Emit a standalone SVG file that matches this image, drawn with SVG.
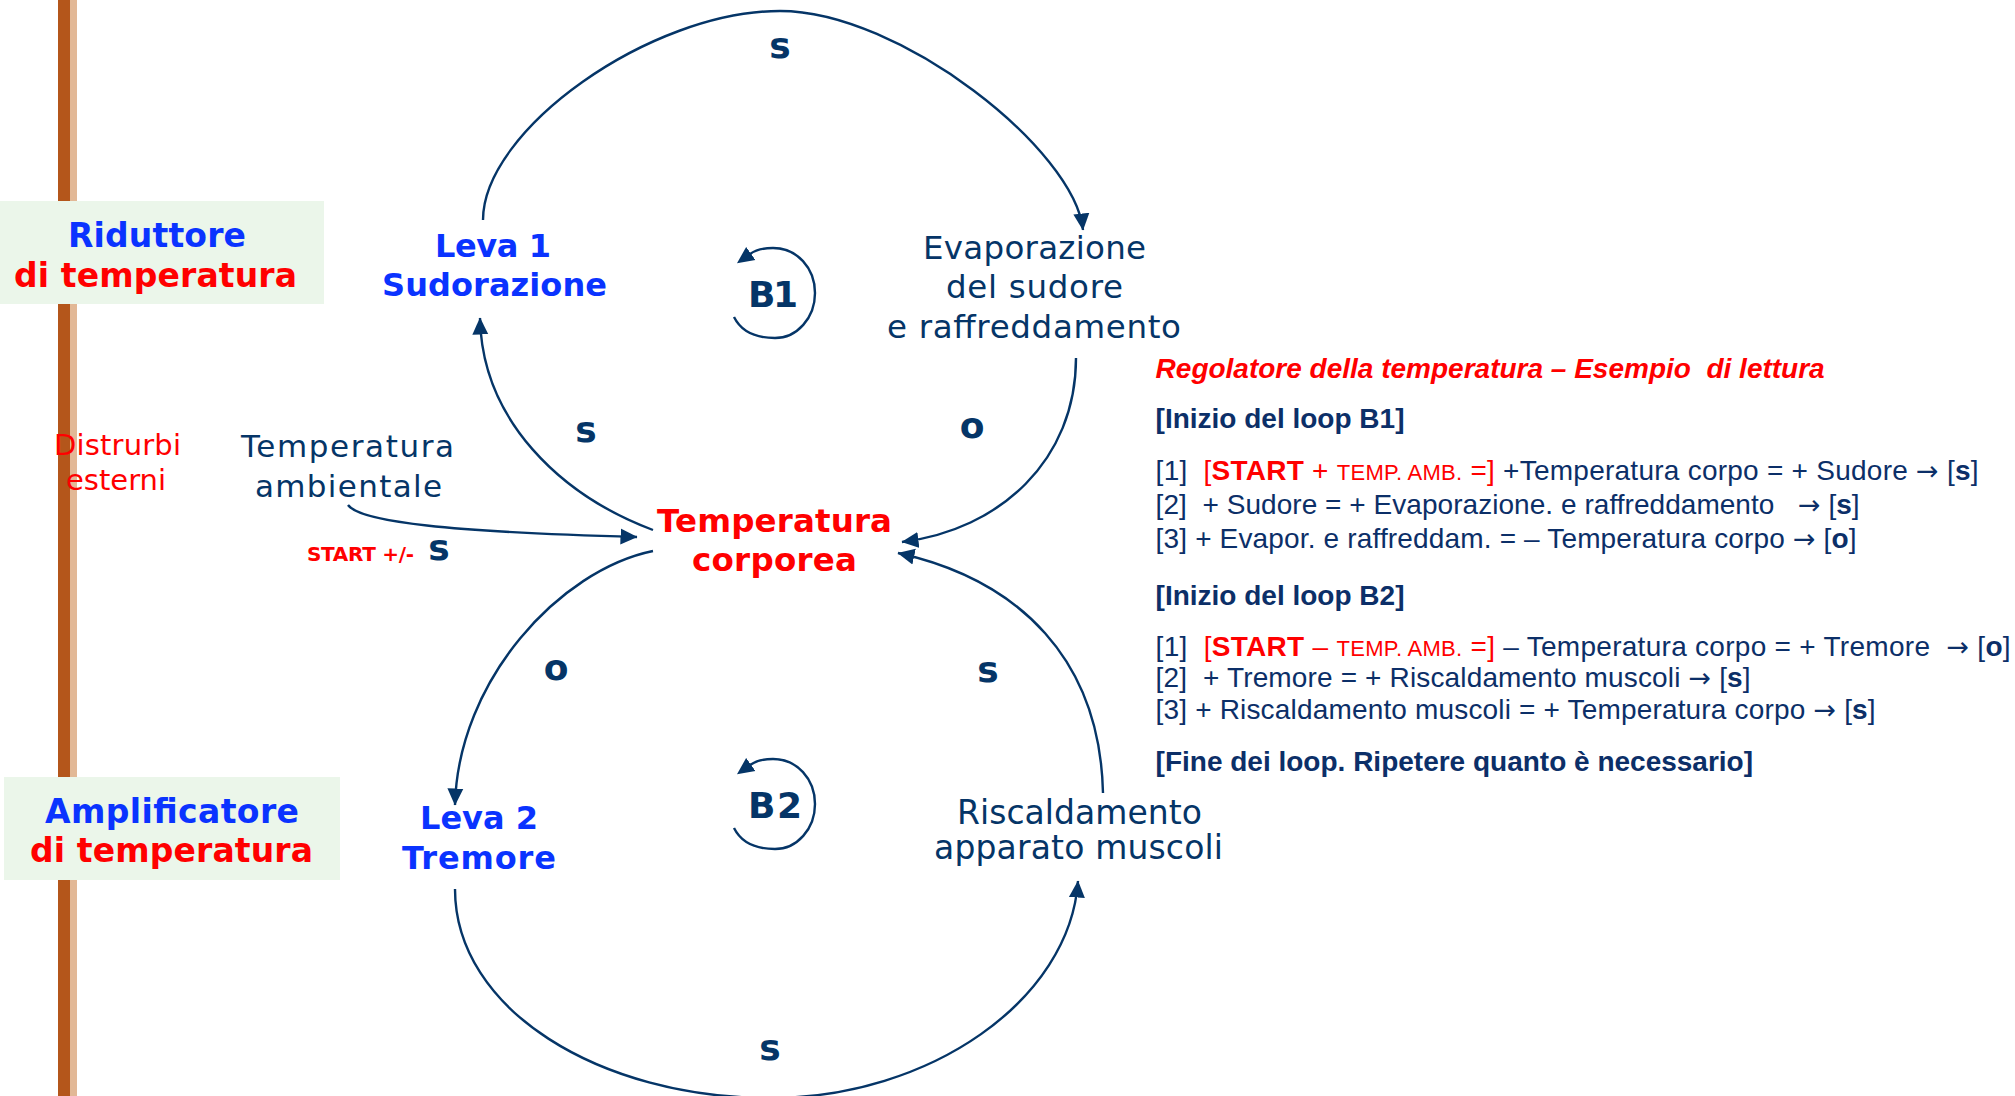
<svg xmlns="http://www.w3.org/2000/svg" width="2015" height="1096" viewBox="0 0 2015 1096">
<style>
.v{font-family:"DejaVu Sans",Verdana,sans-serif}
.vb{font-family:"DejaVu Sans",Verdana,sans-serif;font-weight:bold}
.navy{fill:#053567}
.blue{fill:#0a33ff}
.red{fill:#ff0000}
.pol{font-family:"DejaVu Sans",Verdana,sans-serif;font-weight:bold;font-size:36px;fill:#053567;text-anchor:middle}
.link{fill:none;stroke:#053567;stroke-width:2.4}
.box{fill:#ebf6ea}
.rt{font-family:"Liberation Sans",Arial,sans-serif;font-size:28px;fill:#0c2f68;white-space:pre}
.rt.red,.rt .red{fill:#ff0000}
.b{font-weight:bold}
.sc{font-size:22px}
.ar{font-family:"DejaVu Sans",sans-serif;font-size:27px}
</style>
<defs>
<marker id="arrow" markerUnits="userSpaceOnUse" viewBox="0 0 18 18" markerWidth="18" markerHeight="18" refX="16.5" refY="9" orient="auto">
<path d="M0,1 L17,9 L0,17 z" fill="#053567"/>
</marker>
<marker id="loopArrow" markerUnits="userSpaceOnUse" viewBox="0 0 18 18" markerWidth="18" markerHeight="18" refX="1" refY="9" orient="auto">
<path d="M0,1 L17,9 L0,17 z" fill="#053567"/>
</marker>
<path id="loop" class="link" d="M734,317 C742,333 758,338 775,338 C797,338 815,318 815,293 C815,268 797,248 773,248 C764,248 757,249 750,254" marker-end="url(#loopArrow)"/>
</defs>

<rect width="2015" height="1096" fill="#ffffff"/>

<!-- side rail -->
<g id="rail">
<rect x="58" y="0" width="12" height="1096" fill="#b4561b"/>
<rect x="70" y="0" width="7" height="1096" fill="#e2b896"/>
</g>

<!-- side boxes -->
<g id="riduttore">
<rect class="box" x="0" y="201" width="324" height="103"/>
<text class="vb blue" x="68" y="247" font-size="33" textLength="178">Riduttore</text>
<text class="vb red" x="14" y="287" font-size="33" textLength="283">di temperatura</text>
</g>
<g id="amplificatore">
<rect class="box" x="4" y="777" width="336" height="103"/>
<text class="vb blue" x="45" y="823" font-size="33" textLength="254">Amplificatore</text>
<text class="vb red" x="30" y="862" font-size="33" textLength="283">di temperatura</text>
</g>
<g id="disturbi">
<text class="v red" x="54" y="455" font-size="29" textLength="127">Distrurbi</text>
<text class="v red" x="66" y="490" font-size="29" textLength="100">esterni</text>
</g>

<!-- connectors -->
<g id="connectors">
<path class="link" d="M483,220 C483,130 650,11 780,11 C900,11 1075,150 1083,230" marker-end="url(#arrow)"/>
<path class="link" d="M1076,358 C1076,460 1000,530 902,542" marker-end="url(#arrow)"/>
<path class="link" d="M653,530 C560,495 482,420 480,318" marker-end="url(#arrow)"/>
<path class="link" d="M653,551 C560,570 458,680 455,805" marker-end="url(#arrow)"/>
<path class="link" d="M455,889 C455,1010 600,1098 770,1098 C930,1098 1070,1000 1078,881" marker-end="url(#arrow)"/>
<path class="link" d="M1103,793 C1100,660 1020,580 898,553" marker-end="url(#arrow)"/>
<path class="link" d="M348,505 C360,522 450,532 637,537" marker-end="url(#arrow)"/>
<text class="pol" x="780" y="58">s</text>
<text class="pol" x="586" y="442">s</text>
<text class="pol" x="972" y="438">o</text>
<text class="pol" x="556" y="680">o</text>
<text class="pol" x="988" y="682">s</text>
<text class="pol" x="770" y="1060">s</text>
<text class="pol" x="439" y="560">s</text>
<text class="vb red" x="307" y="561" font-size="20" textLength="107">START +/-</text>
</g>

<!-- nodes -->
<g id="leva1">
<text class="vb blue" x="435" y="257" font-size="32" textLength="116">Leva 1</text>
<text class="vb blue" x="382" y="296" font-size="32" textLength="225">Sudorazione</text>
</g>
<g id="evaporazione">
<text class="v navy" x="923" y="259" font-size="32.5" textLength="223">Evaporazione</text>
<text class="v navy" x="946" y="298" font-size="32.5" textLength="177">del sudore</text>
<text class="v navy" x="887" y="338" font-size="32.5" textLength="294">e raffreddamento</text>
</g>
<g id="temperatura-corporea">
<text class="vb red" x="657" y="532" font-size="32.5" textLength="235">Temperatura</text>
<text class="vb red" x="692" y="571" font-size="32.5" textLength="165">corporea</text>
</g>
<g id="temperatura-ambientale">
<text class="v navy" x="241" y="457" font-size="31" textLength="213">Temperatura</text>
<text class="v navy" x="255" y="497" font-size="31" textLength="187">ambientale</text>
</g>
<g id="leva2">
<text class="vb blue" x="420" y="829" font-size="32" textLength="118">Leva 2</text>
<text class="vb blue" x="402" y="869" font-size="32" textLength="154">Tremore</text>
</g>
<g id="riscaldamento">
<text class="v navy" x="957" y="824" font-size="33" textLength="245">Riscaldamento</text>
<text class="v navy" x="934" y="859" font-size="33" textLength="289">apparato muscoli</text>
</g>
<g id="loop-b1">
<use href="#loop"/>
<text class="vb navy" x="748" y="307" font-size="36" textLength="50">B1</text>
</g>
<g id="loop-b2">
<use href="#loop" transform="translate(0,511)"/>
<text class="vb navy" x="748" y="818" font-size="36" textLength="54">B2</text>
</g>

<!-- reading example -->
<g id="lettura">
<text class="rt b red" x="1155.6" y="378" font-style="italic">Regolatore della temperatura – Esempio  di lettura</text>
<text class="rt b" x="1155.6" y="428">[Inizio del loop B1]</text>
<text class="rt" x="1155.6" y="480" textLength="823">[1]  <tspan class="red">[<tspan class="b">START</tspan> + <tspan class="sc">TEMP. AMB.</tspan> =]</tspan> +Temperatura corpo = + Sudore <tspan class="ar">→</tspan> [<tspan class="b">s</tspan>]</text>
<text class="rt" x="1155.6" y="514" textLength="704">[2]  + Sudore = + Evaporazione. e raffreddamento   <tspan class="ar">→</tspan> [<tspan class="b">s</tspan>]</text>
<text class="rt" x="1155.6" y="548" textLength="701">[3] + Evapor. e raffreddam. = – Temperatura corpo <tspan class="ar">→</tspan> [<tspan class="b">o</tspan>]</text>
<text class="rt b" x="1155.6" y="605">[Inizio del loop B2]</text>
<text class="rt" x="1155.6" y="656" textLength="855">[1]  <tspan class="red">[<tspan class="b">START</tspan> – <tspan class="sc">TEMP. AMB.</tspan> =]</tspan> – Temperatura corpo = + Tremore  <tspan class="ar">→</tspan> [<tspan class="b">o</tspan>]</text>
<text class="rt" x="1155.6" y="687" textLength="595">[2]  + Tremore = + Riscaldamento muscoli <tspan class="ar">→</tspan> [<tspan class="b">s</tspan>]</text>
<text class="rt" x="1155.6" y="719" textLength="720">[3] + Riscaldamento muscoli = + Temperatura corpo <tspan class="ar">→</tspan> [<tspan class="b">s</tspan>]</text>
<text class="rt b" x="1155.6" y="771">[Fine dei loop. Ripetere quanto è necessario]</text>
</g>
</svg>
